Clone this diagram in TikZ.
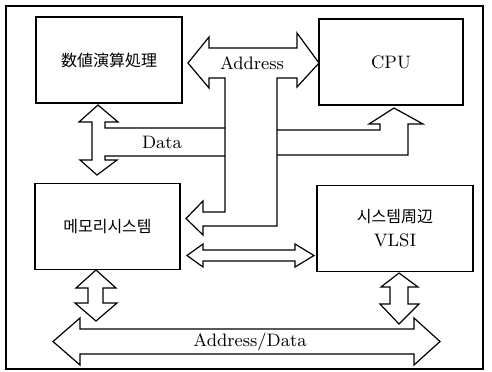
\documentclass[tikz,border=0pt]{standalone}
\usepackage{fontspec}
\newfontfamily\jpfont{Noto Sans CJK JP}
\newfontfamily\krfont{Noto Sans CJK KR}
\tikzset{every node/.style={draw=none,inner sep=0pt},
  blk/.style={draw,line width=0.6pt,minimum height=43pt,align=center},
  bus/.style={line width=0.6pt,line join=miter}}

\begin{document}
\begin{tikzpicture}[x=0.5pt,y=-0.5pt,font=\fontsize{9}{11}\selectfont]
  \useasboundingbox (0,0) rectangle (492,371);
  \draw[line width=0.8pt] (6,6) rectangle (483,369);

  % blocks
  \node[blk,minimum width=73pt] (fpu) at (109,60) {\jpfont\fontsize{8}{10}\selectfont 数値演算処理};
  \node[blk,minimum width=72pt] (cpu) at (391,62) {CPU};
  \node[blk,minimum width=72.5pt] (mem) at (107.5,226.5) {\krfont\fontsize{8}{10}\selectfont 메모리시스템};
  \node[blk,minimum width=78pt] (vlsi) at (395,228.5) {{\krfont\fontsize{8}{10}\selectfont 시스템\jpfont 周辺}\\[1pt] VLSI};

  % address bus with branch to memory
  \draw[bus] (188,63) -- (209,37) -- (209,48) -- (297,48) -- (297,33) -- (319,63)
    -- (297,87) -- (297,78) -- (277,78) -- (277,226) -- (203,226) -- (203,235)
    -- (186,218.5) -- (203,201) -- (203,212) -- (225,212) -- (225,78)
    -- (209,78) -- (209,88) -- cycle;
  \node (addr) at (252,63) {Address};

  % data bus
  \draw[bus] (225,128) -- (105,128) -- (105,122) -- (118,122) -- (98,105) -- (79,122)
    -- (92,122) -- (92,160) -- (80,160) -- (97,175) -- (117,160) -- (105,160)
    -- (105,156) -- (225,156);
  \draw[bus] (277,130) -- (380,130) -- (380,124) -- (369,124) -- (394,108)
    -- (423,124) -- (408,124) -- (408,155) -- (277,155);
  \node (data) at (162,142) {Data};

  % memory <-> vlsi
  \draw[bus] (187,255.5) -- (203,244) -- (203,250) -- (295,250) -- (295,244)
    -- (314,255.5) -- (295,267) -- (295,261) -- (203,261) -- (203,267) -- cycle;

  % down arrows
  \draw[bus] (96,270) -- (116,288) -- (103,288) -- (103,303) -- (117,303) -- (96,321)
    -- (75,303) -- (88,303) -- (88,288) -- (76,288) -- cycle;
  \draw[bus] (399,273) -- (418,287) -- (408,287) -- (408,304) -- (419,304) -- (399,324)
    -- (380,304) -- (390,304) -- (390,287) -- (381,287) -- cycle;

  % address/data bus
  \draw[bus] (53,341.5) -- (80,318) -- (80,329) -- (414,329) -- (414,318) -- (440,341.5)
    -- (414,365) -- (414,354) -- (80,354) -- (80,365) -- cycle;
  \node (adbus) at (250,341.5) {Address/Data};
\end{tikzpicture}
\end{document}
